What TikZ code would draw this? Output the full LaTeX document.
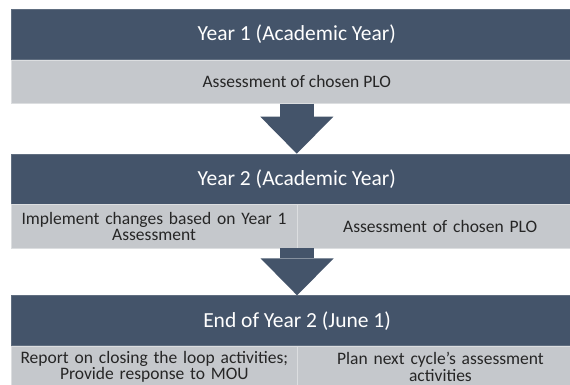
\documentclass[tikz,border=0pt]{standalone}
\usepackage{fontspec}
\setmainfont{Carlito}
\usetikzlibrary{positioning,arrows.meta}
\definecolor{slateblue}{RGB}{68,84,106}
\definecolor{panelgray}{RGB}{197,200,204}
\definecolor{inkgray}{RGB}{38,38,38}
\begin{document}
\begin{tikzpicture}
       \tikzstyle{headbar}=[fill=slateblue, draw=slateblue!85!white, line width=0.6pt, text=white, minimum width=571pt, minimum height=50pt, inner sep=0pt, font=\fontsize{21.5}{24}\selectfont]
       \tikzstyle{bodybar}=[fill=panelgray, draw=panelgray!60!white, line width=0.6pt, text=inkgray, minimum width=571pt, minimum height=43.5pt, inner sep=0pt, font=\fontsize{17.5}{16.5}\selectfont]
       \tikzstyle{bodycell}=[bodybar, minimum width=285.5pt, text width=278pt, align=center]
       \tikzstyle{stepdown}=[slateblue, line width=34pt, -{Triangle[width=73pt, length=37pt, line width=0pt]}]
       \useasboundingbox (0,0) rectangle (570pt,-385pt);
       \node[headbar, anchor=north west] (year1) at (11pt,-9pt) {Year 1 (Academic Year)};
       \node[bodybar, below=0pt of year1] (year1body) {Assessment of chosen PLO};
       \node[headbar, below=50pt of year1body] (year2) {Year 2 (Academic Year)};
       \node[bodycell, below right=0pt and 0pt of year2.south west] (year2left) {Implement changes based on Year 1\\Assessment};
       \node[bodycell, right=0pt of year2left] (year2right) {Assessment of chosen PLO};
       \node[headbar, below=47pt of year2left.south east] (year3) {End of Year 2 (June 1)};
       \node[bodycell, below right=0pt and 0pt of year3.south west, minimum height=41pt] (year3left) {Report on closing the loop activities;\\Provide response to MOU};
       \node[bodycell, right=0pt of year3left, minimum height=41pt] (year3right) {Plan next cycle's assessment\\activities};
       \draw[stepdown] (year1body.south) -- (year2.north);
       \draw[stepdown] (year2left.south east) -- (year3.north);
\end{tikzpicture}
\end{document}
